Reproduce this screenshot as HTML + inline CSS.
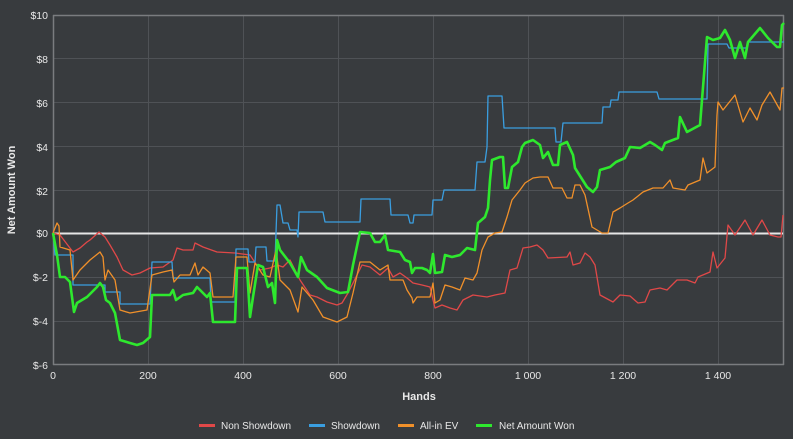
<!DOCTYPE html>
<html><head><meta charset="utf-8"><style>
html,body{margin:0;padding:0;background:#383b3e;}
svg{display:block;font-family:"Liberation Sans",sans-serif;}
</style></head><body>
<svg width="793" height="439" viewBox="0 0 793 439" xmlns="http://www.w3.org/2000/svg">
<rect width="793" height="439" fill="#383b3e"/>
<g stroke="#4f5256" stroke-width="1">
<line x1="148.5" y1="15" x2="148.5" y2="365"/><line x1="243.5" y1="15" x2="243.5" y2="365"/>
<line x1="338.5" y1="15" x2="338.5" y2="365"/><line x1="433.5" y1="15" x2="433.5" y2="365"/>
<line x1="528.5" y1="15" x2="528.5" y2="365"/><line x1="623.5" y1="15" x2="623.5" y2="365"/>
<line x1="718.5" y1="15" x2="718.5" y2="365"/>
<line x1="53" y1="58.5" x2="783" y2="58.5"/><line x1="53" y1="102.5" x2="783" y2="102.5"/>
<line x1="53" y1="146.5" x2="783" y2="146.5"/><line x1="53" y1="190.5" x2="783" y2="190.5"/>
<line x1="53" y1="277.5" x2="783" y2="277.5"/><line x1="53" y1="321.5" x2="783" y2="321.5"/>
</g>
<g stroke="#7a7c7f" stroke-width="1.5" fill="none">
<line x1="53.5" y1="15" x2="53.5" y2="365"/><line x1="53" y1="15.5" x2="784" y2="15.5"/>
<line x1="53" y1="364.5" x2="784" y2="364.5"/><line x1="783.5" y1="15" x2="783.5" y2="365"/>
</g>
<g fill="#e8e8e8" font-size="10.5" text-anchor="end">
<text x="48" y="19">$10</text><text x="48" y="63">$8</text><text x="48" y="107">$6</text>
<text x="48" y="151">$4</text><text x="48" y="195">$2</text><text x="48" y="237">$0</text>
<text x="48" y="281">$-2</text><text x="48" y="325">$-4</text><text x="48" y="369">$-6</text>
</g>
<g fill="#e8e8e8" font-size="10.5" text-anchor="middle">
<text x="53" y="379">0</text><text x="148" y="379">200</text><text x="243" y="379">400</text>
<text x="338" y="379">600</text><text x="433" y="379">800</text><text x="528" y="379">1 000</text>
<text x="623" y="379">1 200</text><text x="718" y="379">1 400</text>
<text x="419" y="400" font-size="11" font-weight="bold">Hands</text>
<text transform="translate(15,190) rotate(-90)" font-size="11" font-weight="bold">Net Amount Won</text>
</g>
<line x1="53" y1="233.5" x2="783" y2="233.5" stroke="#e6e6e6" stroke-width="2"/>
<g fill="none" stroke-linejoin="round">
<polyline stroke="#e04848" stroke-width="1.3" points="53,233 60,235 73,252 80,248 87,242 90,240 99,232 105,237 110,245 117,257 123,270 132,275 140,273 150,268 163,267 173,260 177,248 183,250 193,250 195,243 203,247 217,252 235,253 250,255 260,270 270,268 277,265 283,267 290,260 300,280 310,295 317,297 327,302 337,305 342,303 348,293 353,283 362,265 370,267 380,275 388,268 393,277 400,273 407,278 413,283 422,285 430,287 435,308 442,305 450,308 457,310 463,300 473,295 487,297 495,295 505,293 510,270 517,268 523,248 530,247 537,245 543,250 548,258 567,257 570,252 573,265 580,263 585,253 590,257 595,265 600,295 613,302 620,295 630,296 638,303 645,302 650,290 660,288 667,290 677,280 687,280 695,283 698,277 710,272 713,252 717,268 725,258 728,225 735,235 745,220 753,235 762,220 770,235 778,237 781,237 783,215"/>
<polyline stroke="#3a9ee0" stroke-width="1.3" points="53,233 55,255 73,255 73,285 105,285 105,292 120,292 120,304 150,304 152,262 172,262 173,278 210,278 211,302 235,302 236,249 248,249 249,262 255,262 256,247 266,247 267,261 275,261 277,205 280,205 283,223 288,223 290,230 297,230 298,237 299,212 323,212 325,222 360,222 361,199 390,199 391,215 408,215 410,223 413,223 414,215 432,215 433,200 442,200 444,190 475,190 477,162 485,162 487,147 488,96 502,96 504,128 555,128 556,142 561,142 563,123 602,123 603,107 610,107 611,100 618,100 619,92 657,92 659,99 707,99 708,44 727,44 729,48 747,48 748,42 784,42"/>
<polyline stroke="#f0902a" stroke-width="1.3" points="53,233 57,223 59,226 60,247 70,250 73,280 80,270 90,260 100,252 103,257 105,280 108,270 115,280 120,310 130,313 147,310 152,275 163,272 172,270 174,282 180,275 190,275 195,263 198,275 203,267 210,273 213,297 233,297 236,257 247,257 250,293 255,263 263,275 270,277 276,250 280,280 290,290 298,312 302,287 313,300 323,317 337,322 347,317 353,293 360,262 370,262 380,270 388,265 390,280 403,280 407,290 412,298 413,303 417,297 430,297 433,283 435,303 440,300 445,285 452,287 460,290 465,278 473,280 477,273 482,250 488,237 495,233 502,232 507,217 512,200 520,190 525,183 533,178 540,177 548,177 553,188 562,188 567,198 572,198 575,185 580,185 585,195 592,227 602,233 608,233 613,212 620,208 628,203 633,200 643,192 653,188 663,188 670,180 673,188 685,190 688,185 700,180 703,158 707,173 715,167 717,115 718,102 723,110 735,95 743,122 750,108 757,120 762,105 770,92 780,110 782,88 784,88"/>
<polyline stroke="#2ee82e" stroke-width="2.6" points="53,233 57,255 60,277 65,277 70,282 74,312 77,303 87,297 97,287 100,283 103,287 106,300 110,303 115,313 120,340 130,343 137,345 143,343 150,337 152,295 170,295 173,290 176,300 183,295 193,293 197,287 207,297 210,293 213,322 235,322 237,268 247,268 250,317 253,297 258,265 263,267 268,287 272,283 275,303 277,240 280,250 290,263 298,277 301,257 307,270 317,277 327,288 340,293 348,292 353,265 360,232 370,233 375,242 380,242 385,235 388,250 400,252 405,260 410,262 412,273 415,268 422,268 427,270 430,273 433,254 435,273 442,272 445,255 452,257 460,255 467,248 475,250 478,223 485,217 488,208 490,180 492,160 500,157 503,157 505,188 508,188 512,167 518,162 522,147 525,143 533,140 540,145 543,158 548,152 553,165 558,165 560,145 567,142 573,155 575,168 587,187 593,192 597,187 600,170 610,167 616,162 625,158 630,147 640,148 650,142 655,145 662,150 665,143 678,138 680,117 687,132 700,125 707,37 713,40 720,38 725,30 730,40 735,58 740,42 745,58 748,42 760,28 768,38 777,47 780,47 782,25 784,23"/>
</g>
<g font-size="10" fill="#e8e8e8">
<rect x="199" y="424" width="16" height="3" fill="#e04848"/><text x="221" y="429">Non Showdown</text>
<rect x="309" y="424" width="16" height="3" fill="#3a9ee0"/><text x="331" y="429">Showdown</text>
<rect x="398" y="424" width="16" height="3" fill="#f0902a"/><text x="420" y="429">All-in EV</text>
<rect x="476" y="424" width="16" height="3" fill="#2ee82e"/><text x="499" y="429">Net Amount Won</text>
</g>
</svg>
</body></html>
